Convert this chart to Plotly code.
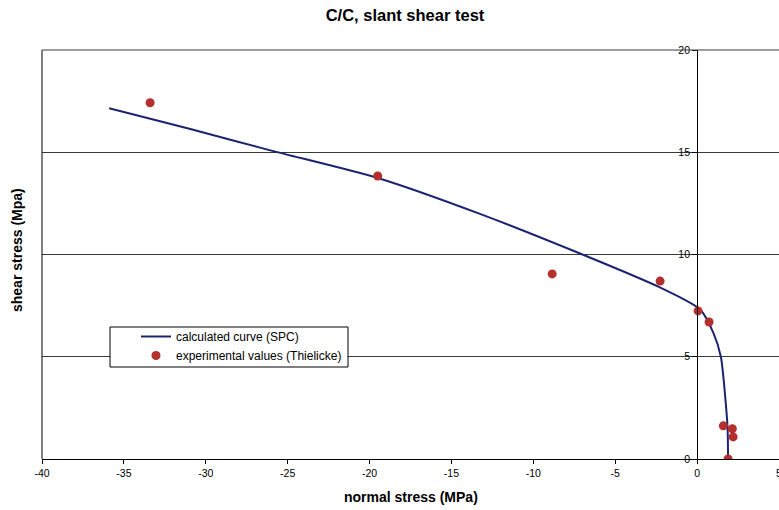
import plotly.graph_objects as go

# calculated curve (SPC)
curve_x = [-35.9, -31.0, -26.0, -19.4, -13.3, -7.0, -2.3, 0.2, 1.0, 1.45, 1.72, 1.86, 1.89]
curve_y = [17.15, 16.15, 15.08, 13.72, 12.0, 10.0, 8.4, 7.3, 6.15, 5.0, 3.0, 1.5, 0.0]

# experimental values (Thielicke)
exp_x = [-33.4, -19.5, -8.85, -2.26, 0.06, 0.73, 1.6, 2.15, 2.2, 1.89]
exp_y = [17.42, 13.84, 9.05, 8.70, 7.24, 6.70, 1.62, 1.48, 1.08, 0.0]

x_tickvals = [-40, -35, -30, -25, -20, -15, -10, -5, 0, 5]
x_ticktext = ["-40", "-35", "-30", "-25", "-20", "-15", "-10", "-5", "0", "5"]
y_tickvals = [0, 5, 10, 15, 20]
y_ticktext = ["0", "5", "10", "15", "20"]

W, H = 779, 510
L, R, T, B = 42, 0, 50, 51
pw, ph = W - L - R, H - T - B

def px_x(p):
    return (p - L) / pw

def px_y(p):
    return (H - B - p) / ph

fig = go.Figure()
fig.add_trace(go.Scatter(
    x=curve_x, y=curve_y, mode="lines", name="calculated curve (SPC)",
    line=dict(color="#1c2470", width=2, shape="spline", smoothing=0.7),
))
fig.add_trace(go.Scatter(
    x=exp_x, y=exp_y, mode="markers", name="experimental values (Thielicke)",
    marker=dict(color="#b3302e", size=9),
))

font = "Arial, Liberation Sans, sans-serif"

fig.update_layout(
    width=W, height=H,
    margin=dict(l=L, r=R, t=T, b=B, autoexpand=False),
    paper_bgcolor="white", plot_bgcolor="white",
    font=dict(family=font, color="black"),
    title=dict(text="<b>C/C, slant shear test</b>", x=px_x(405), xref="paper",
               y=1 - 15 / H, yref="container", xanchor="center", yanchor="middle",
               font=dict(size=16.5, family=font, color="black")),
    showlegend=True,
    legend=dict(x=px_x(136), y=px_y(346), xanchor="left", yanchor="middle",
                bgcolor="rgba(0,0,0,0)", borderwidth=0,
                font=dict(size=12, family=font, color="black"),
                tracegroupgap=0, itemwidth=30),
    xaxis=dict(range=[-40, 5], tickvals=x_tickvals, ticktext=x_ticktext,
               showgrid=False, zeroline=False, showline=True, linecolor="black",
               linewidth=1, ticks="outside", ticklen=4, tickcolor="black",
               tickfont=dict(size=10.5, family=font), anchor="y",
               ticklabeloverflow="allow", automargin=False),
    yaxis=dict(range=[0, 20], tickvals=y_tickvals, ticktext=y_ticktext,
               showgrid=True, gridcolor="#3a3a3a", gridwidth=1, zeroline=False,
               showline=True, linecolor="black", linewidth=1,
               ticks="outside", ticklen=5, tickcolor="black",
               tickfont=dict(size=10.5, family=font),
               anchor="free", position=40 / 45, side="left", automargin=False),
    shapes=[
        dict(type="line", xref="paper", yref="paper", x0=0, x1=0, y0=0, y1=1,
             line=dict(color="black", width=1)),
        dict(type="line", xref="paper", yref="paper", x0=0, x1=1, y0=1, y1=1,
             line=dict(color="#3a3a3a", width=1)),
        dict(type="rect", xref="paper", yref="paper",
             x0=px_x(110), x1=px_x(348), y0=px_y(367), y1=px_y(327),
             fillcolor="white", line=dict(color="black", width=1), layer="above"),
    ],
    annotations=[
        dict(text="<b>normal stress (MPa)</b>", xref="paper", yref="paper",
             x=px_x(411), y=px_y(497), xanchor="center", yanchor="middle",
             showarrow=False, font=dict(size=14, family=font, color="black")),
        dict(text="<b>shear stress (Mpa)</b>", xref="paper", yref="paper",
             x=px_x(17), y=px_y(250), xanchor="center", yanchor="middle",
             textangle=-90, showarrow=False,
             font=dict(size=14, family=font, color="black")),
    ],
)

fig.write_html("out.html")
